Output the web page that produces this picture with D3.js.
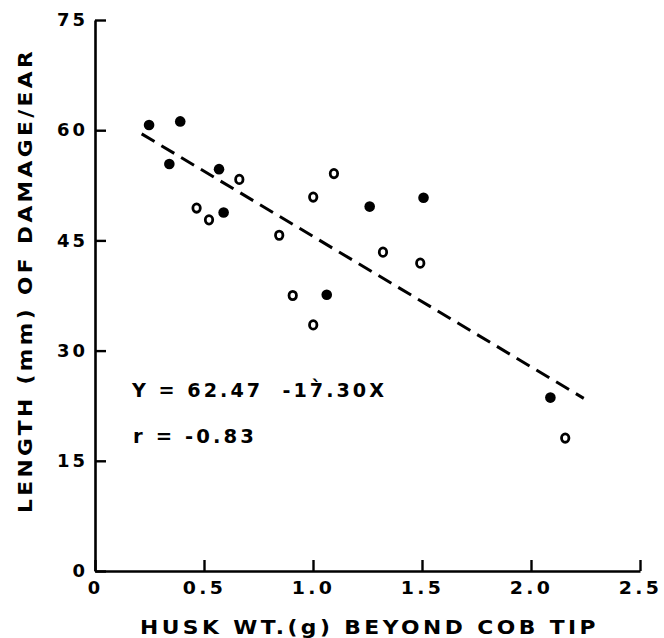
<!DOCTYPE html>
<html lang="en">
  <head>
    <meta charset="UTF-8" />
    <title>Husk weight vs damage length</title>
    <style>
      body {
        margin: 0;
        background: #fff;
      }
      text {
        font-family: "DejaVu Sans", "Liberation Sans", sans-serif;
        font-weight: bold;
        fill: #000;
        letter-spacing: 3px;
      }
    </style>
  </head>
  <body>
    <svg id="chart"></svg>
    <script src="https://cdnjs.cloudflare.com/ajax/libs/d3/7.4.4/d3.min.js"></script>
    <script>
      // values
      const filledX = [0.248, 0.391, 0.341, 0.569, 0.59, 1.063, 1.26, 1.507, 2.089];
      const filledY = [60.7, 61.2, 55.4, 54.7, 48.8, 37.6, 49.6, 50.8, 23.6];
      const openX = [0.466, 0.523, 0.662, 0.845, 0.907, 1.001, 1.001, 1.096, 1.321, 1.492, 2.157];
      const openY = [49.4, 47.8, 53.3, 45.7, 37.5, 50.9, 33.5, 54.1, 43.4, 41.9, 18.1];

      // regression line as drawn in the figure
      const fitX = [0.214, 2.242];
      const fitY = [59.5, 23.5];

      const xTicks = [0, 0.5, 1, 1.5, 2, 2.5];
      const xTickLabels = ["0", "0.5", "1.0", "1.5", "2.0", "2.5"];
      const yTicks = [0, 15, 30, 45, 60, 75];
      const yTickLabels = ["0", "15", "30", "45", "60", "75"];

      const W = 664,
        H = 638;
      const svg = d3.select("#chart").attr("width", W).attr("height", H);

      const x = d3.scaleLinear().domain([0, 2.5]).range([95, 640]);
      const y = d3.scaleLinear().domain([0, 75]).range([571, 20]);

      // width of a spaced-out label: digits wide, dots narrower
      const labelLen = (s) =>
        d3.sum(s.split(""), (c) => (c === "." ? 12.5 : 15.5));

      const xAxis = svg
        .append("g")
        .attr("transform", `translate(0,${y(0)})`)
        .call(
          d3
            .axisBottom(x)
            .tickValues(xTicks)
            .tickFormat((d, i) => xTickLabels[i])
            .tickSizeInner(-11)
            .tickSizeOuter(0)
            .tickPadding(11)
        );

      const yAxis = svg
        .append("g")
        .attr("transform", `translate(${x(0)},0)`)
        .call(
          d3
            .axisLeft(y)
            .tickValues(yTicks)
            .tickFormat((d, i) => yTickLabels[i])
            .tickSizeInner(-11)
            .tickSizeOuter(0)
            .tickPadding(7)
        );

      [xAxis, yAxis].forEach((g) => {
        g.select(".domain").attr("stroke", "#000").attr("stroke-width", 2.6);
        g.selectAll(".tick line").attr("stroke", "#000").attr("stroke-width", 2.4);
        g.selectAll(".tick text")
          .attr("font-family", null)
          .attr("font-size", null)
          .style("font-size", "17px")
          .attr("textLength", (d, i, n) => labelLen(n[i].textContent))
          .attr("lengthAdjust", "spacingAndGlyphs");
      });
      yAxis.selectAll(".tick text").style("font-size", "18px");

      // regression line
      const line = d3
        .line()
        .x((d) => x(d[0]))
        .y((d) => y(d[1]));
      svg
        .append("path")
        .datum(d3.zip(fitX, fitY))
        .attr("d", line)
        .attr("fill", "none")
        .attr("stroke", "#000")
        .attr("stroke-width", 3)
        .attr("stroke-dasharray", "15,8");

      svg
        .append("g")
        .selectAll("circle")
        .data(d3.zip(filledX, filledY))
        .join("circle")
        .attr("cx", (d) => x(d[0]))
        .attr("cy", (d) => y(d[1]))
        .attr("r", 5.3)
        .attr("fill", "#000");

      svg
        .append("g")
        .selectAll("ellipse")
        .data(d3.zip(openX, openY))
        .join("ellipse")
        .attr("cx", (d) => x(d[0]))
        .attr("cy", (d) => y(d[1]))
        .attr("rx", 3.7)
        .attr("ry", 4.2)
        .attr("fill", "none")
        .attr("stroke", "#000")
        .attr("stroke-width", 2.8);

      // equation and r
      svg
        .append("text")
        .attr("x", 132)
        .attr("y", 397)
        .style("font-size", "19px")
        .style("white-space", "pre")
        .attr("textLength", 255)
        .attr("lengthAdjust", "spacingAndGlyphs")
        .text("Y = 62.47  -17\u0300.30X");

      svg
        .append("text")
        .attr("x", 133)
        .attr("y", 443)
        .style("font-size", "19px")
        .attr("textLength", 124)
        .attr("lengthAdjust", "spacingAndGlyphs")
        .text("r = -0.83");

      // axis titles
      svg
        .append("text")
        .attr("x", 140)
        .attr("y", 634)
        .style("font-size", "19px")
        .attr("textLength", 459)
        .attr("lengthAdjust", "spacingAndGlyphs")
        .text("HUSK WT.(g) BEYOND COB TIP");

      svg
        .append("text")
        .attr("transform", "translate(32,513) rotate(-90)")
        .style("font-size", "19px")
        .attr("textLength", 465)
        .attr("lengthAdjust", "spacingAndGlyphs")
        .text("LENGTH (mm) OF DAMAGE/EAR");
    </script>
  </body>
</html>
